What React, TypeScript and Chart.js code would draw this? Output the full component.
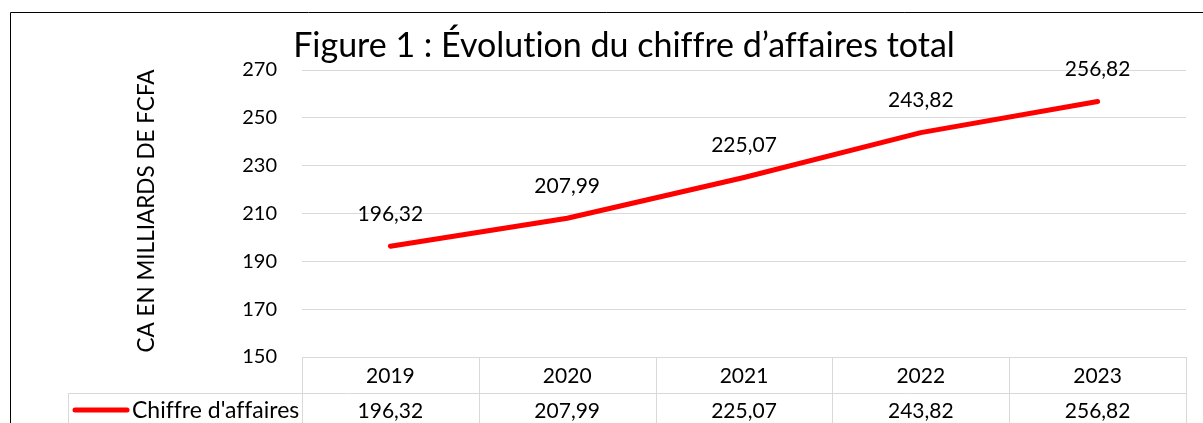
import React, { useEffect, useRef } from "react";
import { Chart, registerables } from "chart.js";

Chart.register(...registerables);

const titleText = "Figure 1 : Évolution du chiffre d’affaires total";
const yAxisTitle = "CA EN MILLIARDS DE FCFA";
const seriesName = "Chiffre d'affaires";
const categories = ["2019", "2020", "2021", "2022", "2023"];
const values = [196.32, 207.99, 225.07, 243.82, 256.82];
const yMin = 150;
const yMax = 270;
const yStep = 20;

const FONT = "Lato, 'Open Sans', sans-serif";
const fmt = (v: number) => v.toFixed(2).replace(".", ",");

export default function App() {
  const ref = useRef<HTMLCanvasElement | null>(null);

  useEffect(() => {
    if (!ref.current) return;
    const overlay = {
      id: "overlay",
      afterDraw(chart: any) {
        const ctx = chart.ctx;
        const area = chart.chartArea;
        const xs = chart.scales.x;
        const meta = chart.getDatasetMeta(0);
        ctx.save();
        try {
          (ctx as any).textRendering = "optimizeSpeed";
        } catch (e) {}
        // frame
        ctx.strokeStyle = "#000";
        ctx.lineWidth = 1;
        ctx.beginPath();
        ctx.moveTo(10.5, 423);
        ctx.lineTo(10.5, 12.5);
        ctx.lineTo(1203, 12.5);
        ctx.stroke();
        // title
        ctx.fillStyle = "#000";
        ctx.font = `34px ${FONT}`;
        ctx.textAlign = "center";
        ctx.textBaseline = "alphabetic";
        ctx.fillText(titleText, 624, 57);
        // y title
        ctx.save();
        ctx.translate(147, 211);
        ctx.rotate(-Math.PI / 2);
        ctx.font = `22.5px ${FONT}`;
        ctx.textAlign = "center";
        ctx.textBaseline = "middle";
        ctx.fillText(yAxisTitle, 0, 0);
        ctx.restore();
        // data labels
        ctx.font = `21px ${FONT}`;
        ctx.textAlign = "center";
        ctx.textBaseline = "middle";
        meta.data.forEach((pt: any, i: number) => {
          ctx.fillText(fmt(values[i]), pt.x, pt.y - 32);
        });
        // data table
        const colW = (area.right - area.left) / categories.length;
        const rowTop = area.bottom;
        const rowMid = rowTop + 36;
        const rowBot = 440;
        const legendLeft = 68;
        ctx.strokeStyle = "#d9d9d9";
        ctx.lineWidth = 1;
        ctx.beginPath();
        ctx.moveTo(legendLeft, Math.round(rowMid) + 0.5);
        ctx.lineTo(area.right, Math.round(rowMid) + 0.5);
        for (let i = 0; i <= categories.length; i++) {
          const x = Math.round(area.left + i * colW) + 0.5;
          ctx.moveTo(x, rowTop);
          ctx.lineTo(x, rowBot);
        }
        ctx.moveTo(legendLeft + 0.5, rowMid);
        ctx.lineTo(legendLeft + 0.5, rowBot);
        ctx.stroke();
        ctx.fillStyle = "#000";
        categories.forEach((c, i) => {
          const cx = xs.getPixelForValue(i);
          ctx.fillText(c, cx, rowTop + 19);
          ctx.fillText(fmt(values[i]), cx, rowMid + 18);
        });
        // legend key
        ctx.strokeStyle = "#ff0000";
        ctx.lineWidth = 5;
        ctx.lineCap = "round";
        ctx.beginPath();
        ctx.moveTo(75, rowMid + 17);
        ctx.lineTo(127, rowMid + 17);
        ctx.stroke();
        ctx.textAlign = "left";
        ctx.font = `23px ${FONT}`;
        ctx.fillText(seriesName, 132, rowMid + 18);
        ctx.restore();
      },
    };

    const chart = new Chart(ref.current, {
      type: "line",
      data: {
        labels: categories,
        datasets: [
          {
            label: seriesName,
            data: values,
            borderColor: "#ff0000",
            backgroundColor: "#ff0000",
            borderWidth: 5,
            pointRadius: 0,
            tension: 0,
            borderCapStyle: "round",
            borderJoinStyle: "round",
          },
        ],
      },
      options: {
        responsive: false,
        animation: false,
        layout: { padding: { left: 0, top: 70, right: 17, bottom: 66 } },
        plugins: { legend: { display: false }, title: { display: false }, tooltip: { enabled: false } },
        scales: {
          x: {
            type: "category",
            offset: true,
            display: false,
          },
          y: {
            min: yMin,
            max: yMax,
            afterFit: (s: any) => {
              s.width = 302;
            },
            ticks: {
              stepSize: yStep,
              padding: 25,
              color: "#000",
              font: { family: FONT, size: 20 },
            },
            grid: { color: "#d9d9d9", drawTicks: false, lineWidth: 1 },
            border: { display: false },
          },
        },
      },
      plugins: [overlay],
    });
    return () => chart.destroy();
  }, []);

  return (
    <div style={{ position: "absolute", left: 0, top: 0, width: 1203, height: 423, background: "#fff" }}>
      <canvas ref={ref} width={1203} height={423} />
    </div>
  );
}
